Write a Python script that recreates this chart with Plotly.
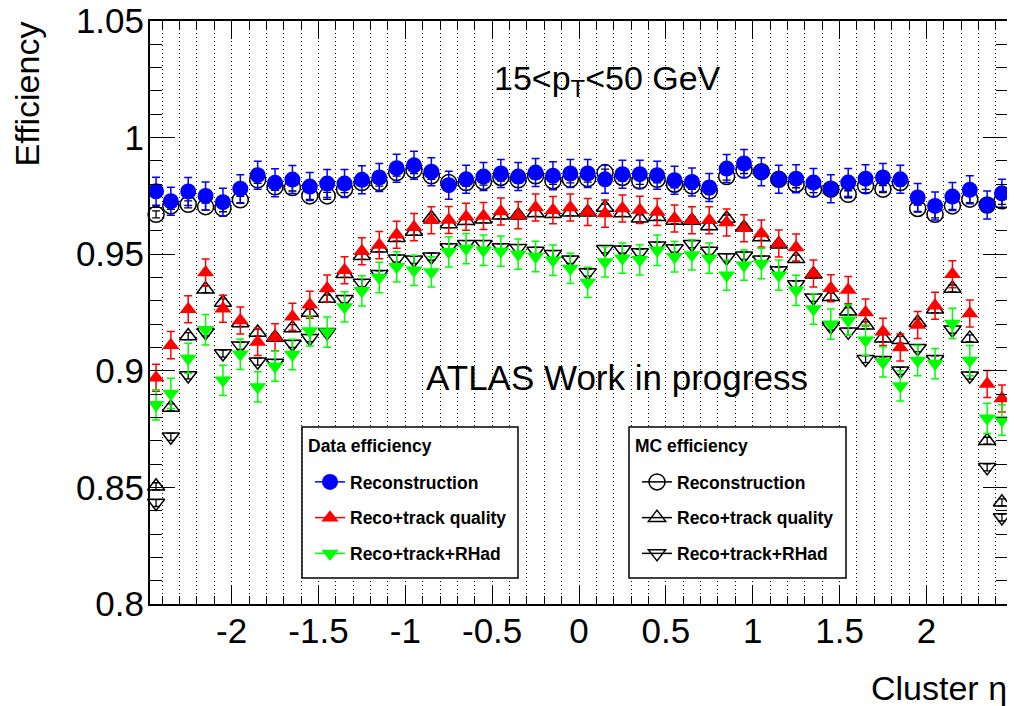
import plotly.graph_objects as go

# bin centres in cluster eta (bins of 0.1, with the two edge bins ending at |eta| = 2.47)
eta = [-2.435, -2.35, -2.25, -2.15, -2.05, -1.95, -1.85, -1.75, -1.65, -1.55,
       -1.45, -1.35, -1.25, -1.15, -1.05, -0.95, -0.85, -0.75, -0.65, -0.55,
       -0.45, -0.35, -0.25, -0.15, -0.05, 0.05, 0.15, 0.25, 0.35, 0.45,
       0.55, 0.65, 0.75, 0.85, 0.95, 1.05, 1.15, 1.25, 1.35, 1.45,
       1.55, 1.65, 1.75, 1.85, 1.95, 2.05, 2.15, 2.25, 2.35, 2.435]

data_reco = [0.9770, 0.9727, 0.9769, 0.9750, 0.9723, 0.9781, 0.9839, 0.9806, 0.9820, 0.9790,
             0.9803, 0.9803, 0.9819, 0.9829, 0.9869, 0.9881, 0.9854, 0.9796, 0.9821, 0.9833,
             0.9846, 0.9833, 0.9850, 0.9836, 0.9846, 0.9846, 0.9821, 0.9843, 0.9843, 0.9839,
             0.9817, 0.9810, 0.9786, 0.9867, 0.9889, 0.9854, 0.9821, 0.9824, 0.9807, 0.9781,
             0.9807, 0.9824, 0.9829, 0.9821, 0.9743, 0.9707, 0.9747, 0.9776, 0.9711, 0.9761]

data_track = [0.8970, 0.9110, 0.9264, 0.9421, 0.9266, 0.9216, 0.9124, 0.9144, 0.9232, 0.9283,
              0.9353, 0.9431, 0.9513, 0.9539, 0.9583, 0.9616, 0.9646, 0.9647, 0.9661, 0.9664,
              0.9683, 0.9667, 0.9700, 0.9689, 0.9700, 0.9681, 0.9674, 0.9696, 0.9690, 0.9681,
              0.9653, 0.9646, 0.9646, 0.9636, 0.9611, 0.9589, 0.9546, 0.9529, 0.9417, 0.9354,
              0.9346, 0.9250, 0.9167, 0.9100, 0.9196, 0.9279, 0.9414, 0.9246, 0.8943, 0.8881]

data_rhad = [0.8854, 0.8903, 0.9053, 0.9176, 0.8959, 0.9071, 0.8931, 0.9020, 0.9070, 0.9171,
             0.9166, 0.9274, 0.9343, 0.9400, 0.9446, 0.9431, 0.9424, 0.9510, 0.9524, 0.9517,
             0.9513, 0.9500, 0.9490, 0.9474, 0.9439, 0.9379, 0.9467, 0.9483, 0.9476, 0.9517,
             0.9489, 0.9497, 0.9483, 0.9410, 0.9453, 0.9460, 0.9410, 0.9345, 0.9265, 0.9200,
             0.9217, 0.9131, 0.9038, 0.8935, 0.9044, 0.9031, 0.9203, 0.9044, 0.8796, 0.8789]

mc_reco = [0.9671, 0.9707, 0.9714, 0.9704, 0.9697, 0.9733, 0.9819, 0.9789, 0.9786, 0.9750,
           0.9750, 0.9779, 0.9807, 0.9807, 0.9850, 0.9861, 0.9836, 0.9807, 0.9807, 0.9811,
           0.9829, 0.9819, 0.9836, 0.9814, 0.9821, 0.9824, 0.9850, 0.9829, 0.9814, 0.9821,
           0.9800, 0.9793, 0.9771, 0.9833, 0.9861, 0.9854, 0.9821, 0.9800, 0.9779, 0.9779,
           0.9757, 0.9793, 0.9779, 0.9807, 0.9696, 0.9671, 0.9707, 0.9736, 0.9711, 0.9729]

mc_track = [0.8505, 0.8843, 0.9149, 0.9350, 0.9293, 0.9205, 0.9164, 0.9143, 0.9183, 0.9250,
            0.9310, 0.9416, 0.9493, 0.9526, 0.9571, 0.9597, 0.9655, 0.9629, 0.9643, 0.9650,
            0.9667, 0.9667, 0.9677, 0.9673, 0.9680, 0.9680, 0.9700, 0.9677, 0.9654, 0.9661,
            0.9645, 0.9644, 0.9621, 0.9653, 0.9614, 0.9574, 0.9543, 0.9481, 0.9414, 0.9318,
            0.9255, 0.9195, 0.9140, 0.9133, 0.9207, 0.9264, 0.9353, 0.9139, 0.8700, 0.8436]

mc_rhad = [0.8433, 0.8717, 0.8980, 0.9165, 0.9074, 0.9107, 0.9039, 0.9033, 0.9115, 0.9140,
           0.9165, 0.9307, 0.9376, 0.9414, 0.9481, 0.9476, 0.9489, 0.9529, 0.9543, 0.9543,
           0.9529, 0.9526, 0.9514, 0.9500, 0.9476, 0.9421, 0.9521, 0.9519, 0.9507, 0.9536,
           0.9524, 0.9543, 0.9514, 0.9486, 0.9493, 0.9476, 0.9430, 0.9370, 0.9313, 0.9190,
           0.9167, 0.9050, 0.9045, 0.9000, 0.9097, 0.9049, 0.9176, 0.8979, 0.8586, 0.8371]

# statistical uncertainties (roughly constant across eta)
err_data_reco = 0.006
err_data_track = 0.0058
err_data_rhad = 0.0065
err_mc = 0.0015

x_tick_vals = [-2, -1.5, -1, -0.5, 0, 0.5, 1, 1.5, 2]
x_tick_text = ["-2", "-1.5", "-1", "-0.5", "0", "0.5", "1", "1.5", "2"]

# page has an 8px body margin, so the figure is a little smaller than the window
OFF = 8
W, H = 1015 - OFF, 706 - OFF
ML, MR, MT, MB = 142, 7, 13, 102
PW, PH = W - ML - MR, H - MT - MB
FONT = "Liberation Sans, Arial, sans-serif"


def xp(px):
    # page pixel -> paper fraction
    return (px - OFF - ML) / PW


def yp(py):
    return (H - MB - (py - OFF)) / PH


fig = go.Figure()

mc_series = [
    (mc_reco, "circle-open", 16, "Reconstruction"),
    (mc_track, "triangle-up-open", 15, "Reco+track quality"),
    (mc_rhad, "triangle-down-open", 15, "Reco+track+RHad"),
]
data_series = [
    (data_reco, err_data_reco, "#0000ff", "circle", 16, "Reconstruction"),
    (data_track, err_data_track, "#ff0000", "triangle-up", 15, "Reco+track quality"),
    (data_rhad, err_data_rhad, "#00ff00", "triangle-down", 15, "Reco+track+RHad"),
]

# MC first so the data markers sit on top
for vals, sym, size, name in mc_series:
    fig.add_trace(go.Scatter(
        x=eta, y=vals, mode="markers", showlegend=False, cliponaxis=False,
        marker=dict(symbol=sym, size=size, color="black", line=dict(color="black", width=1.5)),
        error_y=dict(type="constant", value=err_mc, color="black", thickness=1.3, width=4),
    ))

for vals, err, col, sym, size, name in data_series:
    fig.add_trace(go.Scatter(
        x=eta, y=vals, mode="markers", showlegend=False, cliponaxis=False,
        marker=dict(symbol=sym, size=size, color=col, line=dict(width=0)),
        error_y=dict(type="constant", value=err, color=col, thickness=1.5, width=4),
    ))

# legend-only entries (marker + line, ROOT style)
for i, (vals, err, col, sym, size, name) in enumerate(data_series):
    fig.add_trace(go.Scatter(
        x=[None], y=[None], mode="lines+markers", name=name, legend="legend",
        legendgroup="d%d" % i,
        line=dict(color=col, width=1.5),
        marker=dict(symbol=sym, size=size, color=col, line=dict(width=0)),
    ))
for i, (vals, sym, size, name) in enumerate(mc_series):
    fig.add_trace(go.Scatter(
        x=[None], y=[None], mode="lines+markers", name=name, legend="legend2",
        legendgroup="m%d" % i,
        line=dict(color="black", width=1.5),
        marker=dict(symbol=sym, size=size, color="black", line=dict(color="black", width=1.5)),
    ))

legend_common = dict(
    bgcolor="rgba(0,0,0,0)", borderwidth=0, tracegroupgap=10,
    font=dict(family=FONT, size=17.5, color="black", weight="bold"),
    xanchor="left", yanchor="top", itemsizing="trace",
)
fig.update_layout(
    legend=dict(legend_common, x=xp(310), y=yp(464)),
    legend2=dict(legend_common, x=xp(637), y=yp(464)),
)

# legend frames (white filled boxes hide the grid)
for x0, x1 in [(302, 518), (629, 846)]:
    fig.add_shape(type="rect", xref="paper", yref="paper",
                  x0=xp(x0), x1=xp(x1), y0=yp(578), y1=yp(427),
                  line=dict(color="black", width=1.5), fillcolor="white", layer="above")

fig.update_xaxes(
    range=[-2.47, 2.47],
    tickmode="array", tickvals=x_tick_vals, ticktext=x_tick_text,
    ticks="inside", ticklen=18, tickwidth=1.2, tickcolor="black",
    showline=True, linecolor="black", linewidth=2, mirror="allticks",
    showgrid=True, gridcolor="black", gridwidth=1, griddash="1px,3px",
    minor=dict(dtick=0.1, tick0=0, ticks="inside", ticklen=8, tickcolor="black",
               showgrid=True, gridcolor="black", gridwidth=1, griddash="1px,3px"),
    tickfont=dict(family=FONT, size=35, color="black"),
    ticklabelstandoff=-5, ticklabeloverflow="allow",
    zeroline=False,
)
fig.update_yaxes(
    range=[0.8, 1.05], dtick=0.05, tick0=0.8,
    ticks="inside", ticklen=25, tickwidth=1.2, tickcolor="black",
    showline=True, linecolor="black", linewidth=2, mirror="allticks",
    showgrid=False,
    minor=dict(dtick=0.01, ticks="inside", ticklen=12, tickcolor="black", showgrid=False),
    tickfont=dict(family=FONT, size=35, color="black"),
    ticklabelstandoff=-3, ticklabeloverflow="allow",
    zeroline=False,
)

annotations = [
    dict(text="15<p<sub>T</sub><50 GeV", x=xp(492), y=yp(80), xanchor="left", yanchor="middle",
         font=dict(family=FONT, size=34, color="black")),
    dict(text="ATLAS Work in progress", x=xp(424), y=yp(377), xanchor="left", yanchor="middle",
         font=dict(family=FONT, size=35, color="black")),
    dict(text="Efficiency", x=xp(26), y=yp(20), xanchor="center", yanchor="top", textangle=-90,
         font=dict(family=FONT, size=34, color="black")),
    dict(text="Cluster η", x=xp(1009), y=yp(688), xanchor="right", yanchor="middle",
         font=dict(family=FONT, size=34, color="black")),
    dict(text="<b>Data efficiency</b>", x=xp(306), y=yp(446), xanchor="left", yanchor="middle",
         font=dict(family=FONT, size=17.5, color="black")),
    dict(text="<b>MC efficiency</b>", x=xp(633), y=yp(446), xanchor="left", yanchor="middle",
         font=dict(family=FONT, size=17.5, color="black")),
]
for a in annotations:
    fig.add_annotation(xref="paper", yref="paper", showarrow=False, **a)

fig.update_layout(
    width=W, height=H,
    margin=dict(l=ML, r=MR, t=MT, b=MB, autoexpand=False),
    paper_bgcolor="white", plot_bgcolor="white",
    font=dict(family=FONT, color="black"),
)

fig.write_html("out.html")
